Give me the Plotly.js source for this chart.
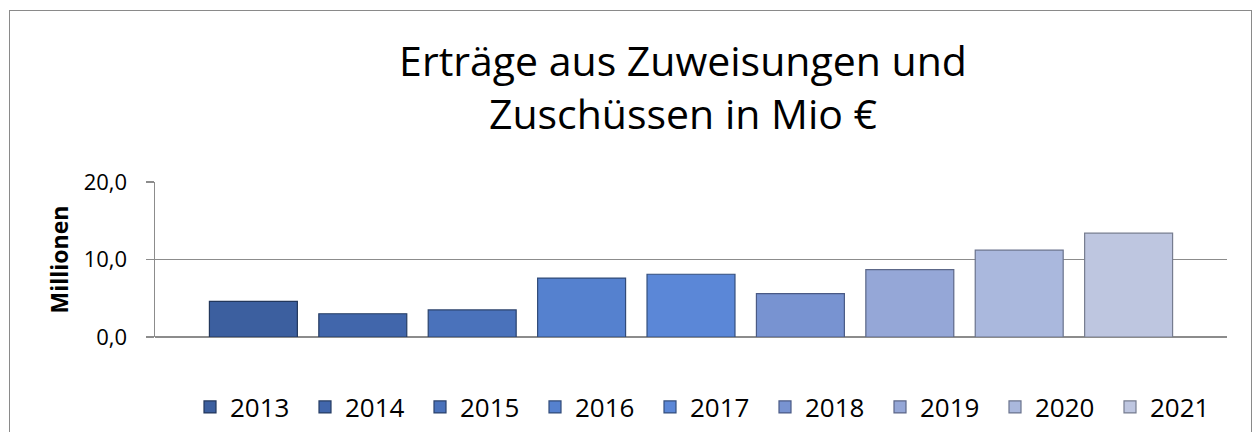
<!DOCTYPE html>
<html>
<head>
<meta charset="utf-8">
<script src="https://cdn.plot.ly/plotly-3.0.1.min.js"></script>
<style>
  html, body { margin: 0; padding: 0; background: #ffffff; }
  #wrap { position: relative; width: 1260px; height: 432px; overflow: hidden; }
  #chart { position: absolute; left: 0; top: 0; width: 1260px; height: 432px; }
  #frame { position: absolute; left: 9px; top: 10px; width: 1243px; height: 440px;
           border: 1.5px solid #8a8a8a; pointer-events: none; box-sizing: border-box; }
</style>
</head>
<body>
<div id="wrap">
  <div id="chart"></div>
  <div id="frame"></div>
</div>
<script>
// ---- data ----
const years = ["2013", "2014", "2015", "2016", "2017", "2018", "2019", "2020", "2021"];
const values = [4.6, 3.0, 3.5, 7.6, 8.1, 5.6, 8.7, 11.2, 13.4];
const barColors = ["#3C5F9F", "#4166AB", "#4A72BB", "#5581CF", "#5B87D7", "#7893D1", "#95A7D7", "#AAB8DD", "#BEC6E0"];
const lineColors = ["#22375c", "#263c63", "#2b426c", "#314b78", "#344f7d", "#4a5a85", "#5c6788", "#6a738d", "#767c8f"];
const category = "Zuweisungen";
const titleText = "Erträge aus Zuweisungen und<br>Zuschüssen in Mio €";
const yTitle = "Millionen";
const yTicks = [0, 10, 20];

const traces = years.map((yr, i) => ({
  type: "bar",
  name: yr,
  x: [category],
  y: [values[i]],
  marker: { color: barColors[i], line: { color: lineColors[i], width: 1.2 } },
  hoverinfo: "name+y"
}));

const layout = {
  width: 1260,
  height: 432,
  margin: { l: 155, r: 33, t: 182, b: 95, pad: 0 },
  paper_bgcolor: "rgba(0,0,0,0)",
  plot_bgcolor: "rgba(0,0,0,0)",
  separators: ",.",
  font: { family: "Open Sans, sans-serif", color: "#000000" },
  title: {
    text: titleText,
    font: { family: "Open Sans, sans-serif", size: 41, color: "#000000" },
    xref: "container", x: 683 / 1260, xanchor: "center",
    yref: "container", y: 1 - 76 / 432, yanchor: "middle"
  },
  barmode: "group",
  bargap: 0.0815,
  bargroupgap: 0.196,
  xaxis: {
    type: "category",
    showticklabels: false,
    showgrid: false,
    zeroline: false,
    showline: false,
    ticks: "",
    fixedrange: true
  },
  yaxis: {
    range: [0, 20],
    tickvals: yTicks,
    tickformat: ".1f",
    showgrid: true,
    gridcolor: "#8c8c8c",
    gridwidth: 1.5,
    zeroline: true,
    zerolinecolor: "#8c8c8c",
    zerolinewidth: 1.5,
    showline: true,
    linecolor: "#8c8c8c",
    linewidth: 1.5,
    ticks: "outside",
    ticklen: 8,
    tickwidth: 1.5,
    tickcolor: "#8c8c8c",
    ticklabelstandoff: 14,
    tickfont: { family: "Open Sans, sans-serif", size: 22, color: "#000000" },
    title: {
      text: yTitle,
      font: { family: "Open Sans, sans-serif", size: 23, color: "#000000", weight: "bold" },
      standoff: 8
    },
    fixedrange: true
  },
  showlegend: true,
  legend: {
    orientation: "h",
    xref: "container", x: 190 / 1260, xanchor: "left",
    yref: "container", y: 1 - 407 / 432, yanchor: "middle",
    font: { family: "Open Sans, sans-serif", size: 26, color: "#000000" },
    entrywidth: 70,
    entrywidthmode: "pixels",
    traceorder: "normal",
    bgcolor: "rgba(0,0,0,0)",
    itemclick: false,
    itemdoubleclick: false
  }
};

Plotly.newPlot("chart", traces, layout, { displayModeBar: false, staticPlot: true });
</script>
</body>
</html>
